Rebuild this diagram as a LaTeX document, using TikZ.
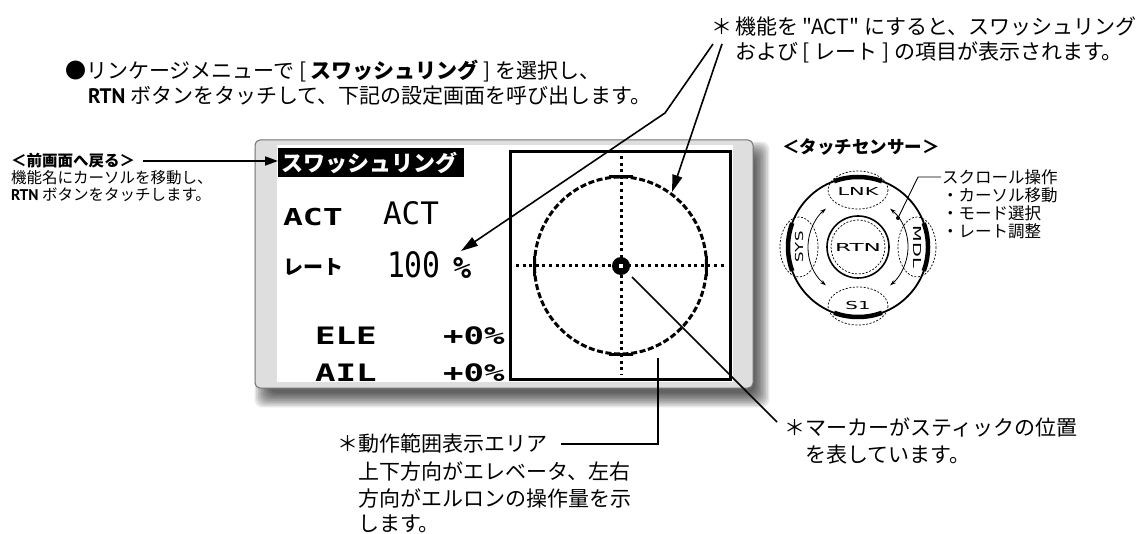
\documentclass[tikz,border=0pt]{standalone}
\usepackage{fontspec}
\setmainfont{Noto Sans CJK JP}
\newfontfamily\jp{Noto Sans CJK JP}
\newfontfamily\monof{DejaVu Sans Mono}
\newfontfamily\dvs{DejaVu Sans}
\newfontfamily\rtnf{PT Sans}
\usetikzlibrary{arrows.meta}
\newcommand\myfs[1]{\fontsize{#1}{#1}\selectfont}
\begin{document}
\begin{tikzpicture}[x=1pt,y=-1pt,
  every node/.style={inner sep=0pt,outer sep=0pt},
  notetxt/.style={anchor=west,font=\jp\myfs{21}},
  smalltxt/.style={anchor=west,font=\jp\myfs{15.5}},
  tstxt/.style={anchor=west,font=\jp\myfs{16.5}},
  pixtxt/.style={anchor=west,font=\monof\bfseries\myfs{24},xscale=1.42},
  bigtxt/.style={anchor=west,font=\monof\myfs{31}},
  padring/.style={draw,dash pattern=on 2pt off 1.6pt,line width=0.7},
  tlabel/.style={font=\dvs\myfs{11}},
  callline/.style={line width=1.6},
  bigarrow/.style={-{Triangle[length=17pt,width=10pt]}},
]
\useasboundingbox (0,0) rectangle (1140,534);

% ---------- screen frame with shadow ----------
\foreach \e in {0,...,9}
  \fill[black,opacity=0.09,rounded corners=8]
    (269-1.6*\e,156-1.6*\e) rectangle (755+1.6*\e,393+1.6*\e);
\draw[draw=black!55,line width=1,fill=black!13,rounded corners=5]
  (255,140) rectangle (753,388);
\fill[white] (277,145) rectangle (733,382);

% title
\node[fill=black,minimum width=186,minimum height=29,anchor=north west] (title) at (278,148) {};
\node[anchor=west,text=white,font=\jp\bfseries\myfs{22}] (titletext) at (281,162.5) {スワッシュリング};

% LCD texts
\begin{scope}
\clip (277,145) rectangle (733,382);
\node[pixtxt,font=\monof\bfseries\myfs{23.3}] (act1) at (283,217) {ACT};
\node[bigtxt] (act2) at (383,213.5) {ACT};
\node[anchor=west,font=\jp\bfseries\myfs{20}] (rate1) at (283,267) {レート};
\node[anchor=west,font=\monof\myfs{35},xscale=0.85] (rate2) at (387,265) {100};
\node[anchor=west,font=\monof\bfseries\myfs{30},xscale=1.0] (rate3) at (453,268.5) {\%};
\node[pixtxt] (ele1) at (315,336) {ELE};
\node[pixtxt] (ele2) at (443,336) {+0\%};
\node[pixtxt] (ail1) at (315,372.5) {AIL};
\node[pixtxt] (ail2) at (443,372.5) {+0\%};
\end{scope}

% graph
\draw[line width=3] (510.5,151.5) rectangle (730.5,379.5);
\draw[line width=3,dash pattern=on 3pt off 3.6pt] (516,266) -- (727,266);
\draw[line width=3,dash pattern=on 3pt off 3.6pt] (621,156) -- (621,375);
\draw[line width=3,dash pattern=on 6pt off 2.6pt] (620.5,265.5) ellipse [x radius=86,y radius=88.5];
\draw[line width=3] (609,176.5) -- (633,176.5);
\draw[line width=3] (609,354.5) -- (633,354.5);
\draw[line width=3] (534.5,256) -- (534.5,276);
\draw[line width=3] (706.5,256) -- (706.5,276);
\node[circle,fill=black,minimum size=18] (marker) at (621,266) {};
\fill[white] (619.3,264.3) rectangle (622.7,267.7);

% ---------- top-left instruction ----------
\node[notetxt] (tl1) at (65,71) {●リンケージメニューで [ \textbf{スワッシュリング} ] を選択し、};
\node[notetxt] (tl2) at (88,96) {{\rtnf\bfseries RTN} ボタンをタッチして、下記の設定画面を呼び出します。};

% ---------- top-right note ----------
\node[notetxt] (tr0) at (711,27) {＊};
\node[notetxt] (tr1) at (735,27) {機能を "ACT" にすると、スワッシュリング};
\node[notetxt] (tr2) at (735,52.5) {および [ レート ] の項目が表示されます。};
\coordinate (actA) at (713,44);
\coordinate (actB) at (722,44);
\coordinate (bend) at (665,113);
\coordinate (rateTip) at (461,251);
\coordinate (ringTip) at (672,192);
\draw[callline,bigarrow] (actA) -- (bend) -- (rateTip);
\draw[callline,bigarrow] (actB) -- (ringTip);

% ---------- left note ----------
\node[smalltxt,font=\jp\bfseries\myfs{15.5}] (back) at (11,161) {＜前画面へ戻る＞};
\node[smalltxt] (back2) at (11,178) {機能名にカーソルを移動し、};
\node[smalltxt] (back3) at (11,195) {{\rtnf\bfseries RTN} ボタンをタッチします。};
\coordinate (backA) at (143,161);
\coordinate (backTip) at (278,161);
\draw[line width=1.8,-{Triangle[length=13pt,width=9pt]}] (backA) -- (backTip);

% ---------- bottom-left note ----------
\node[notetxt] (bl1) at (337,444) {＊動作範囲表示エリア};
\node[notetxt] (bl2) at (358,471) {上下方向がエレベータ、左右};
\node[notetxt] (bl3) at (358,498) {方向がエルロンの操作量を示};
\node[notetxt] (bl4) at (358,523.5) {します。};
\coordinate (areaA) at (658,358);
\coordinate (areaB) at (658,444);
\coordinate (areaC) at (561,444);
\draw[line width=2] (areaA) -- (areaB) -- (areaC);

% ---------- bottom-right note ----------
\node[notetxt] (br1) at (784.5,427) {＊マーカーがスティックの位置};
\node[notetxt] (br2) at (805.5,455) {を表しています。};
\coordinate (mk1) at (632,277);
\coordinate (mk2) at (777,422);
\draw[line width=1.5] (mk1) -- (mk2);

% ---------- touch sensor ----------
\node[anchor=west,font=\jp\bfseries\myfs{17.5}] (tshead) at (782,147) {＜タッチセンサー＞};
\coordinate (tc) at (858,247);
\draw[line width=1.8] (tc) circle (70);
\draw[line width=4.5] ([shift={(-110:70)}]tc) arc (-110:-70:70);
\draw[line width=4.5] ([shift={(70:70)}]tc) arc (70:110:70);
\draw[line width=4.5] ([shift={(160:70)}]tc) arc (160:200:70);
\draw[line width=4.5] ([shift={(-20:70)}]tc) arc (-20:20:70);
\draw[padring] (858,190) ellipse [x radius=30,y radius=19];
\draw[padring] (858,306) ellipse [x radius=30,y radius=19];
\draw[padring] (799,247) ellipse [x radius=19,y radius=30];
\draw[padring] (917,247) ellipse [x radius=19,y radius=30];
\draw[line width=1.6] (tc) circle (31);
\draw[padring] (tc) circle (27);
\draw[line width=0.8,{Stealth[length=6pt,width=4pt]}-{Stealth[length=6pt,width=4pt]}]
  ([shift={(130:50)}]tc) arc (130:230:50);
\draw[line width=0.8,{Stealth[length=6pt,width=4pt]}-{Stealth[length=6pt,width=4pt]}]
  ([shift={(-50:50)}]tc) arc (-50:50:50);
\node[tlabel] (lnk) at (858,191) {\scalebox{1.9}[1]{LNK}};
\node[tlabel] (rtn) at (858,247) {\scalebox{2.1}[1]{RTN}};
\node[tlabel] (sone) at (858,305) {\scalebox{1.8}[1]{S1}};
\node[tlabel,rotate=90] (sys) at (799,247) {\scalebox{1.5}[1]{SYS}};
\node[tlabel,rotate=-90] (mdl) at (917,247) {\scalebox{1.75}[1]{MDL}};
\coordinate (scDot) at (898,218);
\coordinate (scBend) at (918,177);
\coordinate (scEnd) at (941,177);
\fill (scDot) circle (2);
\draw[line width=0.9] (scDot) -- (scBend) -- (scEnd);
\node[tstxt] (ts1) at (942,177) {スクロール操作};
\node[tstxt] (ts2) at (942,195) {・カーソル移動};
\node[tstxt] (ts3) at (942,213) {・モード選択};
\node[tstxt] (ts4) at (942,231) {・レート調整};
\end{tikzpicture}
\end{document}
